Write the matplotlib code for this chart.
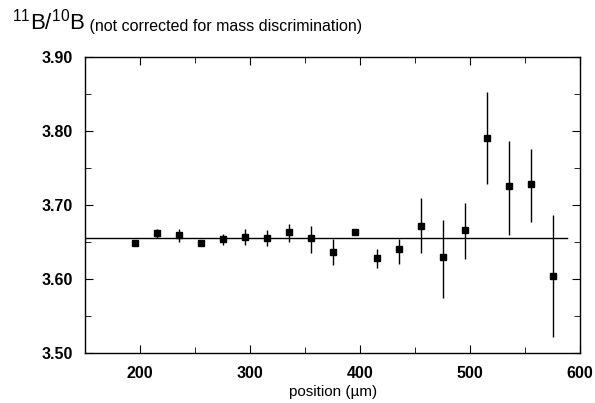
import numpy as np
import matplotlib.pyplot as plt

plt.rcParams["font.family"] = ["Liberation Sans", "DejaVu Sans"]
plt.rcParams["mathtext.fontset"] = "custom"
plt.rcParams["mathtext.rm"] = "Liberation Sans"

# positions along the crystal (um)
position = [195, 215, 235, 255, 275, 295, 315, 335, 355, 375,
            395, 415, 435, 455, 475, 495, 515, 535, 555, 575]
# measured 11B/10B ratio
ratio = [3.649, 3.662, 3.660, 3.648, 3.654, 3.657, 3.655, 3.663, 3.655, 3.637,
         3.663, 3.629, 3.640, 3.671, 3.630, 3.666, 3.791, 3.725, 3.728, 3.604]
err_lo = [0.004, 0.007, 0.010, 0.004, 0.008, 0.011, 0.011, 0.013, 0.020, 0.018,
          0.003, 0.014, 0.020, 0.036, 0.056, 0.039, 0.063, 0.066, 0.051, 0.083]
err_hi = [0.004, 0.005, 0.007, 0.004, 0.007, 0.011, 0.011, 0.011, 0.017, 0.017,
          0.003, 0.011, 0.014, 0.038, 0.050, 0.037, 0.062, 0.061, 0.047, 0.082]
mean_ratio = 3.655
line_span = [150, 588]

fig = plt.figure(figsize=(5.95, 4.03), dpi=100)
ax = fig.add_axes([0.143, 0.124, 0.832, 0.735])

ax.errorbar(position, ratio, yerr=[err_lo, err_hi], fmt="s", color="black",
            markersize=5, elinewidth=1, capsize=0, zorder=3)
ax.plot(line_span, [mean_ratio, mean_ratio], color="black", lw=1, zorder=2)

ax.set_xlim(150, 600)
ax.set_ylim(3.50, 3.90)
ax.set_xticks([200, 300, 400, 500, 600])
ax.set_xticks(np.arange(150, 601, 50), minor=True)
ax.set_yticks([3.50, 3.60, 3.70, 3.80, 3.90])
ax.set_yticks(np.arange(3.50, 3.91, 0.05), minor=True)
ax.yaxis.set_major_formatter(plt.FormatStrFormatter("%.2f"))
ax.tick_params(which="both", direction="in", top=True, right=True)
ax.tick_params(which="major", length=6, labelsize=11.5, pad=9)
ax.tick_params(which="minor", length=4)
for lab in ax.get_xticklabels() + ax.get_yticklabels():
    lab.set_fontweight("bold")
for s in ax.spines.values():
    s.set_linewidth(1)

ax.set_xlabel("position (\u00b5m)", fontsize=11, labelpad=3)

t1 = fig.text(0.02, 0.928, r"$^{11}\mathrm{B}/^{10}\mathrm{B}$", fontsize=16,
              va="baseline")
fig.canvas.draw()
ax.annotate(" (not corrected for mass discrimination)", xy=(1, 0),
            xycoords=t1, fontsize=11.5, va="bottom", ha="left",
            annotation_clip=False)

fig.savefig("out.png", dpi=100)
